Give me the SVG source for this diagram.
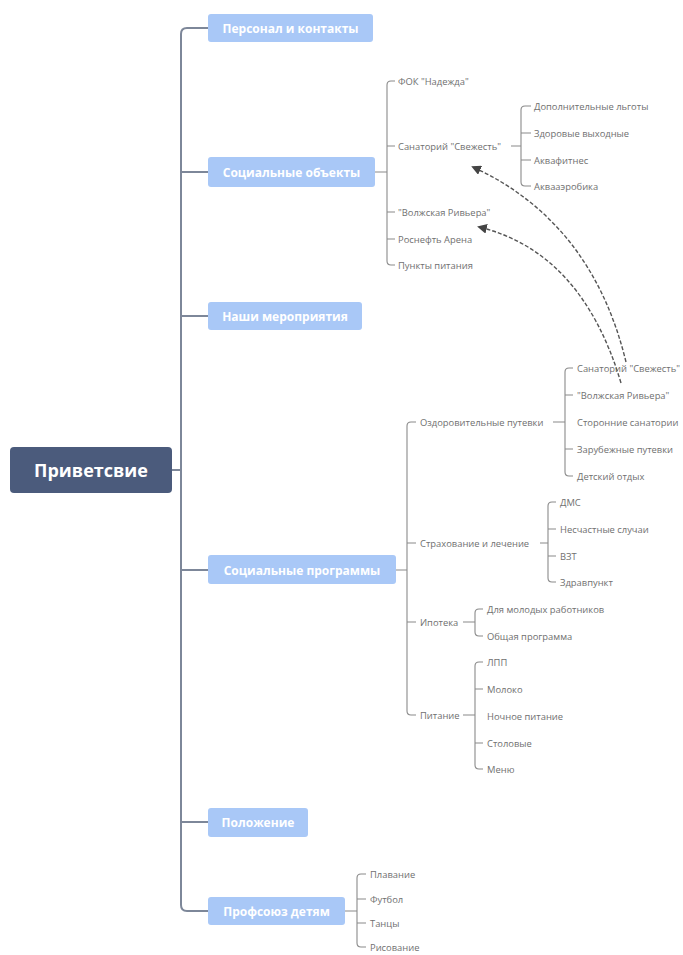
<svg xmlns="http://www.w3.org/2000/svg" width="683" height="955" viewBox="0 0 683 955">
<defs>
<style>
.l1 rect{fill:#a9c8f7;}
.l1 text{fill:#fff;font-family:"Open Sans","Liberation Sans",sans-serif;font-size:12px;font-weight:bold;text-anchor:middle;dominant-baseline:central;}
.t{fill:#707070;font-family:"Open Sans","Liberation Sans",sans-serif;font-size:9.4px;dominant-baseline:central;}
.spine{fill:none;stroke:#7d8799;stroke-width:2;}
.br{fill:none;stroke:#8a8a8a;stroke-width:1.1;}
.rel{fill:none;stroke:#555;stroke-width:1.4;stroke-dasharray:4 2;marker-end:url(#ah);}
</style>
<marker id="ah" viewBox="0 0 10 10" refX="8" refY="5" markerWidth="7" markerHeight="7" orient="auto-start-reverse">
<path d="M0,0 L10,5 L0,10 z" fill="#444"/>
</marker>
</defs>
<rect width="683" height="955" fill="#fff"/>

<g id="connectors">
<path class="spine" d="M172,470 H181 M208,28 H187 Q181,28 181,34 V905 Q181,911 187,911 H208 M181,172 H208 M181,316 H208 M181,570 H208 M181,822 H208"/>
<path class="br" d="M375,172 H387 M395,81 H391 Q387,81 387,85 V261 Q387,265 391,265 H395 M387,146 H395 M387,212 H395 M387,239 H395"/>
<path class="br" d="M511,146 H521 M531,106 H525 Q521,106 521,110 V182 Q521,186 525,186 H531 M521,133 H531 M521,160 H531"/>
<path class="br" d="M396,570 H407 M416,422 H411 Q407,422 407,426 V711 Q407,715 411,715 H416 M407,543 H416 M407,622 H416"/>
<path class="br" d="M553,422 H565 M573,368 H569 Q565,368 565,372 V472 Q565,476 569,476 H573 M565,395 H573 M565,449 H573"/>
<path class="br" d="M540,543 H548 M556,502 H552 Q548,502 548,506 V578 Q548,582 552,582 H556 M548,529 H556 M548,556 H556"/>
<path class="br" d="M463,622 H475 M483,609 H479 Q475,609 475,613 V632 Q475,636 479,636 H483"/>
<path class="br" d="M463,715 H475 M483,662 H479 Q475,662 475,666 V765 Q475,769 479,769 H483 M475,689 H483 M475,743 H483"/>
<path class="br" d="M345,911 H357 M366,874 H361 Q357,874 357,878 V943 Q357,947 361,947 H366 M357,899 H366 M357,923 H366"/>
<path class="rel" d="M626,362 Q592,222 473,167"/>
<path class="rel" d="M621,383 Q582,252 479,227"/>
</g>

<g id="root">
<rect x="10" y="447" width="162" height="46" rx="4" fill="#4b5b7c"/>
<text x="91" y="470" fill="#fff" font-family="'Open Sans','Liberation Sans',sans-serif" font-size="18" font-weight="bold" text-anchor="middle" dominant-baseline="central">Приветсвие</text>
</g>

<g id="n-personal" class="l1"><rect x="208" y="14" width="165" height="28" rx="3"/><text x="290.5" y="28">Персонал и контакты</text></g>
<g id="n-objects" class="l1"><rect x="208" y="157" width="167" height="30" rx="3"/><text x="291.5" y="172">Социальные объекты</text></g>
<g id="n-events" class="l1"><rect x="208" y="302" width="154" height="28" rx="3"/><text x="285" y="316">Наши мероприятия</text></g>
<g id="n-programs" class="l1"><rect x="208" y="555" width="188" height="29" rx="3"/><text x="302" y="570">Социальные программы</text></g>
<g id="n-polozhenie" class="l1"><rect x="208" y="808" width="100" height="29" rx="3"/><text x="258" y="822">Положение</text></g>
<g id="n-deti" class="l1"><rect x="208" y="897" width="137" height="28" rx="3"/><text x="276.5" y="911">Профсоюз детям</text></g>

<g id="objects-children">
<g id="n-fok"><text class="t" x="398" y="81">ФОК "Надежда"</text></g>
<g id="n-sanatoriy1"><text class="t" x="398" y="146">Санаторий "Свежесть"</text></g>
<g id="n-volga1"><text class="t" x="398" y="212">"Волжская Ривьера"</text></g>
<g id="n-arena"><text class="t" x="398" y="239">Роснефть Арена</text></g>
<g id="n-pitanie-pt"><text class="t" x="398" y="265">Пункты питания</text></g>
<g id="n-lgoty"><text class="t" x="534" y="106">Дополнительные льготы</text></g>
<g id="n-vyhodnye"><text class="t" x="534" y="133">Здоровые выходные</text></g>
<g id="n-akvafit"><text class="t" x="534" y="160">Аквафитнес</text></g>
<g id="n-akvaaero"><text class="t" x="534" y="186">Аквааэробика</text></g>
</g>

<g id="programs-children">
<g id="n-putevki"><text class="t" x="420" y="422">Оздоровительные путевки</text></g>
<g id="n-strah"><text class="t" x="420" y="543">Страхование и лечение</text></g>
<g id="n-ipoteka"><text class="t" x="420" y="622">Ипотека</text></g>
<g id="n-pitanie"><text class="t" x="420" y="715">Питание</text></g>
<g id="n-sanatoriy2"><text class="t" x="577" y="368">Санаторий "Свежесть"</text></g>
<g id="n-volga2"><text class="t" x="577" y="395">"Волжская Ривьера"</text></g>
<g id="n-storon"><text class="t" x="577" y="422">Сторонние санатории</text></g>
<g id="n-zarub"><text class="t" x="577" y="449">Зарубежные путевки</text></g>
<g id="n-detskiy"><text class="t" x="577" y="476">Детский отдых</text></g>
<g id="n-dms"><text class="t" x="560" y="502">ДМС</text></g>
<g id="n-neschast"><text class="t" x="560" y="529">Несчастные случаи</text></g>
<g id="n-vzt"><text class="t" x="560" y="556">ВЗТ</text></g>
<g id="n-zdrav"><text class="t" x="560" y="582">Здравпункт</text></g>
<g id="n-molodye"><text class="t" x="487" y="609">Для молодых работников</text></g>
<g id="n-obshaya"><text class="t" x="487" y="636">Общая программа</text></g>
<g id="n-lpp"><text class="t" x="487" y="662">ЛПП</text></g>
<g id="n-moloko"><text class="t" x="487" y="689">Молоко</text></g>
<g id="n-nochnoe"><text class="t" x="487" y="716">Ночное питание</text></g>
<g id="n-stolovye"><text class="t" x="487" y="743">Столовые</text></g>
<g id="n-menu"><text class="t" x="487" y="769">Меню</text></g>
</g>

<g id="deti-children">
<g id="n-plavanie"><text class="t" x="370" y="874">Плавание</text></g>
<g id="n-futbol"><text class="t" x="370" y="899">Футбол</text></g>
<g id="n-tancy"><text class="t" x="370" y="923">Танцы</text></g>
<g id="n-risovanie"><text class="t" x="370" y="947">Рисование</text></g>
</g>
</svg>
